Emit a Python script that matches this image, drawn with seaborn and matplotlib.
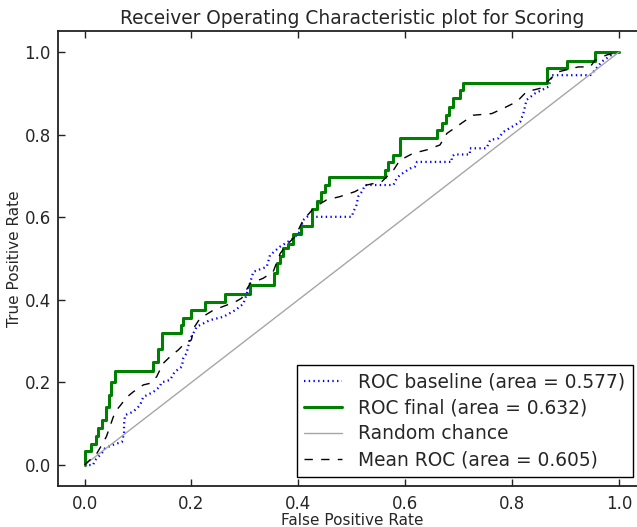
import numpy as np
import pandas as pd
import matplotlib
matplotlib.use("Agg")
import matplotlib.pyplot as plt
import seaborn as sns

# ROC curves
base_fpr = [0, 0.016, 0.02, 0.026, 0.032, 0.038, 0.051, 0.07, 0.074, 0.074, 0.076, 0.091, 0.104,
            0.11, 0.129, 0.141, 0.144, 0.16, 0.169, 0.182, 0.185, 0.191, 0.197, 0.21, 0.235, 0.26,
            0.282, 0.297, 0.303, 0.316, 0.341, 0.347, 0.366, 0.391, 0.403, 0.409, 0.416, 0.5, 0.503,
            0.509, 0.512, 0.519, 0.525, 0.578, 0.584, 0.59, 0.609, 0.618, 0.622, 0.687, 0.687, 0.692,
            0.721, 0.721, 0.752, 0.759, 0.774, 0.784, 0.805, 0.815, 0.821, 0.827, 0.843, 0.868, 0.874,
            0.874, 0.946, 0.952, 0.968, 0.977, 0.986, 1.0]
base_tpr = [0, 0.0, 0.012, 0.02, 0.028, 0.04, 0.048, 0.056, 0.077, 0.1, 0.121, 0.129, 0.145,
            0.165, 0.177, 0.19, 0.2, 0.206, 0.226, 0.238, 0.259, 0.271, 0.303, 0.335, 0.351, 0.359,
            0.375, 0.39, 0.412, 0.468, 0.48, 0.508, 0.529, 0.549, 0.565, 0.593, 0.601, 0.601, 0.613,
            0.63, 0.65, 0.662, 0.678, 0.678, 0.694, 0.702, 0.718, 0.722, 0.734, 0.734, 0.746, 0.752,
            0.752, 0.767, 0.767, 0.787, 0.791, 0.807, 0.823, 0.831, 0.851, 0.884, 0.9, 0.916, 0.94,
            0.944, 0.944, 0.952, 0.977, 0.985, 0.993, 1.0]

final_fpr = [0, 0.012, 0.021, 0.025, 0.033, 0.04, 0.045, 0.05, 0.057, 0.129, 0.138, 0.145, 0.18,
             0.184, 0.2, 0.225, 0.262, 0.31, 0.355, 0.36, 0.366, 0.372, 0.38, 0.39, 0.405, 0.425,
             0.435, 0.442, 0.45, 0.457, 0.562, 0.568, 0.577, 0.59, 0.659, 0.669, 0.676, 0.682, 0.69,
             0.702, 0.708, 0.865, 0.903, 0.955, 1.0]
final_tpr = [0, 0.033, 0.05, 0.07, 0.09, 0.11, 0.14, 0.17, 0.2, 0.227, 0.25, 0.28, 0.32,
             0.34, 0.357, 0.375, 0.395, 0.413, 0.435, 0.465, 0.49, 0.505, 0.525, 0.535, 0.56, 0.58,
             0.62, 0.64, 0.66, 0.677, 0.697, 0.714, 0.734, 0.75, 0.792, 0.811, 0.828, 0.847, 0.867,
             0.888, 0.908, 0.925, 0.961, 0.978, 1.0]

mean_fpr = [0, 0.023, 0.032, 0.041, 0.054, 0.06, 0.07, 0.076, 0.091, 0.11, 0.123, 0.135, 0.147,
            0.163, 0.175, 0.188, 0.2, 0.204, 0.216, 0.241, 0.282, 0.294, 0.31, 0.334, 0.353, 0.366,
            0.378, 0.394, 0.409, 0.431, 0.453, 0.478, 0.506, 0.528, 0.556, 0.578, 0.59, 0.615, 0.64,
            0.665, 0.678, 0.709, 0.727, 0.762, 0.784, 0.809, 0.827, 0.852, 0.886, 0.924, 0.946, 0.955,
            0.977, 1.0]
mean_tpr = [0, 0.028, 0.048, 0.069, 0.117, 0.133, 0.149, 0.161, 0.177, 0.194, 0.198, 0.214, 0.246,
            0.266, 0.278, 0.295, 0.303, 0.331, 0.355, 0.375, 0.395, 0.404, 0.44, 0.452, 0.468, 0.512,
            0.533, 0.553, 0.593, 0.625, 0.642, 0.65, 0.662, 0.678, 0.686, 0.714, 0.738, 0.755, 0.763,
            0.775, 0.803, 0.831, 0.847, 0.851, 0.864, 0.88, 0.904, 0.912, 0.952, 0.964, 0.964, 0.98,
            0.993, 1.0]

chance = [0, 1]

labels = ["ROC baseline (area = 0.577)", "ROC final (area = 0.632)",
          "Random chance", "Mean ROC (area = 0.605)"]

sns.set_style("white", {"xtick.direction": "in", "ytick.direction": "in",
                        "axes.edgecolor": "#222222"})
plt.rcParams["font.family"] = ["DejaVu Sans"]
plt.rcParams["lines.scale_dashes"] = False

fig = plt.figure(figsize=(6.37, 5.27), dpi=100)
ax = fig.add_axes([0.0907, 0.0784, 0.923, 0.862])

sns.lineplot(x=base_fpr, y=base_tpr, ax=ax, sort=False, estimator=None, color="blue",
             lw=1.6, dashes=False, linestyle=(0, (1, 2.4)), label=labels[0])
sns.lineplot(x=final_fpr, y=final_tpr, ax=ax, sort=False, estimator=None, color="green",
             lw=2.2, drawstyle="steps-pre", label=labels[1])
sns.lineplot(x=chance, y=chance, ax=ax, sort=False, estimator=None, color="#a6a6a6",
             lw=1.0, label=labels[2])
sns.lineplot(x=mean_fpr, y=mean_tpr, ax=ax, sort=False, estimator=None, color="black",
             lw=1.0, linestyle=(0, (6, 6)), label=labels[3])

ax.set_xlim(-0.05, 1.05)
ax.set_ylim(-0.05, 1.05)
ax.set_xticks(np.arange(0, 1.01, 0.2))
ax.set_yticks(np.arange(0, 1.01, 0.2))
ax.tick_params(axis="both", which="major", direction="in", length=5, width=1,
               labelsize=12, pad=7, top=True, right=True, bottom=True, left=True,
               color="#222222")
ax.tick_params(axis="y", pad=5)
for s in ax.spines.values():
    s.set_linewidth(1.3)

ax.set_xlabel("False Positive Rate", fontsize=11, labelpad=0)
ax.set_ylabel("True Positive Rate", fontsize=11, labelpad=2)
ax.set_title("Receiver Operating Characteristic plot for Scoring", fontsize=13.4, pad=5)

leg = ax.legend(loc="lower right", bbox_to_anchor=(633 / 637, 50 / 527),
                bbox_transform=fig.transFigure, borderaxespad=0, fontsize=13.4,
                frameon=True, fancybox=False, framealpha=1, edgecolor="black",
                labelspacing=0.38, handlelength=2.0, handletextpad=0.9)
leg.get_frame().set_linewidth(1.0)

fig.savefig("out.png", dpi=100)
